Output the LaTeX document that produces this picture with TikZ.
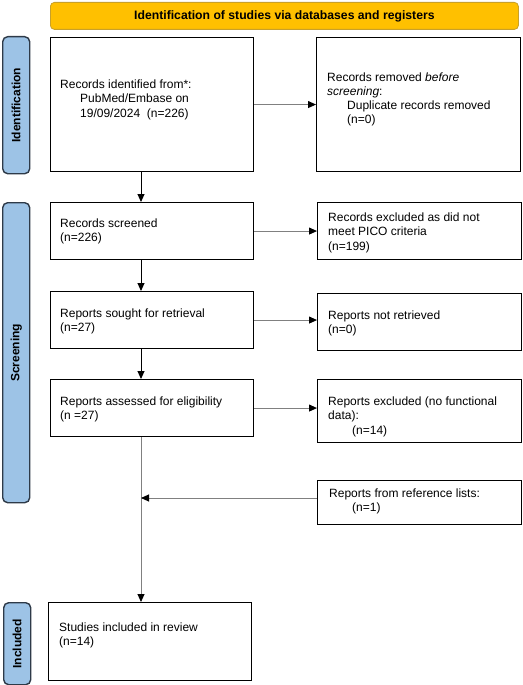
\documentclass[tikz,border=0pt]{standalone}
\usepackage{fontspec}
\setmainfont{Liberation Sans}
\usetikzlibrary{arrows.meta}
\definecolor{hdrfill}{HTML}{FFC000}
\definecolor{hdrdraw}{HTML}{C8A02A}
\definecolor{sidefill}{HTML}{9DC3E6}
\definecolor{sidedraw}{HTML}{2E3A48}
\definecolor{lnk}{HTML}{808080}
\tikzset{
  box/.style={draw=black, line width=1.1pt, rectangle, anchor=north west, inner sep=0pt},
  txt/.style={anchor=north west, inner sep=0pt, align=left,
    font=\fontsize{12pt}{14.5pt}\selectfont},
  sidelab/.style={draw=sidedraw, fill=sidefill, line width=1.4pt, rounded corners=5pt,
    anchor=north west, minimum width=27pt, inner sep=0pt},
  sidetxt/.style={rotate=90, font=\fontsize{12pt}{14pt}\selectfont\bfseries},
  arrblk/.style={draw=black, line width=0.9pt, -{Triangle[length=8pt,width=7pt]}},
  arrgry/.style={draw=lnk, line width=0.9pt, -{Triangle[length=8pt,width=7pt,color=black]}},
}
\newcommand{\ind}[1]{\hspace*{#1pt}}
\begin{document}
\begin{tikzpicture}[x=1pt,y=-1pt]
\useasboundingbox (0,0) rectangle (522,685);
% header
\node[draw=hdrdraw, fill=hdrfill, line width=0.8pt, rounded corners=4pt, anchor=north west,
  minimum width=468pt, minimum height=27pt, inner sep=0pt,
  font=\fontsize{12.2pt}{14pt}\selectfont\bfseries] (hdr) at (50,2)
  {Identification of studies via databases and registers};
% side labels
\node[sidelab, minimum height=137pt] (sid) at (2,36) {};
\node[sidetxt] (sidt) at (sid.center) {Identification};
\node[sidelab, minimum height=300pt] (sscr) at (2,202) {};
\node[sidetxt] (sscrt) at (sscr.center) {Screening};
\node[sidelab, minimum height=82pt] (sinc) at (3,602) {};
\node[sidetxt] (sinct) at (sinc.center) {Included};
% boxes
\node[box, minimum width=203pt, minimum height=134pt] (b1) at (50,37) {};
\node[box, minimum width=204pt, minimum height=134pt] (b2) at (316,37) {};
\node[box, minimum width=203pt, minimum height=57pt] (b3) at (50,202) {};
\node[box, minimum width=204pt, minimum height=57pt] (b4) at (317,202) {};
\node[box, minimum width=203pt, minimum height=57pt] (b5) at (50,291) {};
\node[box, minimum width=204pt, minimum height=57pt] (b6) at (317,293) {};
\node[box, minimum width=203pt, minimum height=57pt] (b7) at (50,379) {};
\node[box, minimum width=204pt, minimum height=63pt] (b8) at (317,379) {};
\node[box, minimum width=204pt, minimum height=44pt] (b9) at (317,480) {};
\node[box, minimum width=203pt, minimum height=78pt] (b10) at (48,602) {};
% texts
\node[txt] (t1) at (60,79.3)
  {Records identified from*:\\ \ind{20}PubMed/Embase on\\ \ind{20}19/09/2024\ \ (n=226)};
\node[txt, font=\fontsize{12pt}{14pt}\selectfont] (t2) at (327,72.3)
  {Records removed \textit{before}\\ \textit{screening}:\\ \ind{20}Duplicate records removed\\ \ind{20}(n=0)};
\node[txt] (t3) at (60,218.3) {Records screened\\ (n=226)};
\node[txt] (t4) at (328,212.3) {Records excluded as did not\\ meet PICO criteria\\ (n=199)};
\node[txt] (t5) at (60,308.3) {Reports sought for retrieval\\ (n=27)};
\node[txt] (t6) at (328,310.3) {Reports not retrieved\\ (n=0)};
\node[txt] (t7) at (60,396.3) {Reports assessed for eligibility\\ (n =27)};
\node[txt] (t8) at (328,396.3) {Reports excluded (no functional\\ data):\\ \ind{24}(n=14)};
\node[txt] (t9) at (329,488.3) {Reports from reference lists:\\ \ind{23}(n=1)};
\node[txt] (t10) at (59,622.3) {Studies included in review\\ (n=14)};
% connectors
\coordinate (col) at (141,0);
\coordinate (mrg) at (141,498);
\draw[arrgry] (b1.east) -- (b2.west);
\draw[arrblk] (b1.south -| col) -- (b3.north -| col);
\draw[arrgry] (b3.east) -- (b3.east -| b4.west);
\draw[arrblk] (b3.south -| col) -- (b5.north -| col);
\draw[arrgry] (b5.east) -- (b5.east -| b6.west);
\draw[arrblk] (b5.south -| col) -- (b7.north -| col);
\draw[arrgry] (b7.east) -- (b7.east -| b8.west);
\draw[arrgry] (b7.south -| col) -- (b10.north -| col);
\draw[arrgry] (b9.west |- mrg) -- (mrg);
\end{tikzpicture}
\end{document}
